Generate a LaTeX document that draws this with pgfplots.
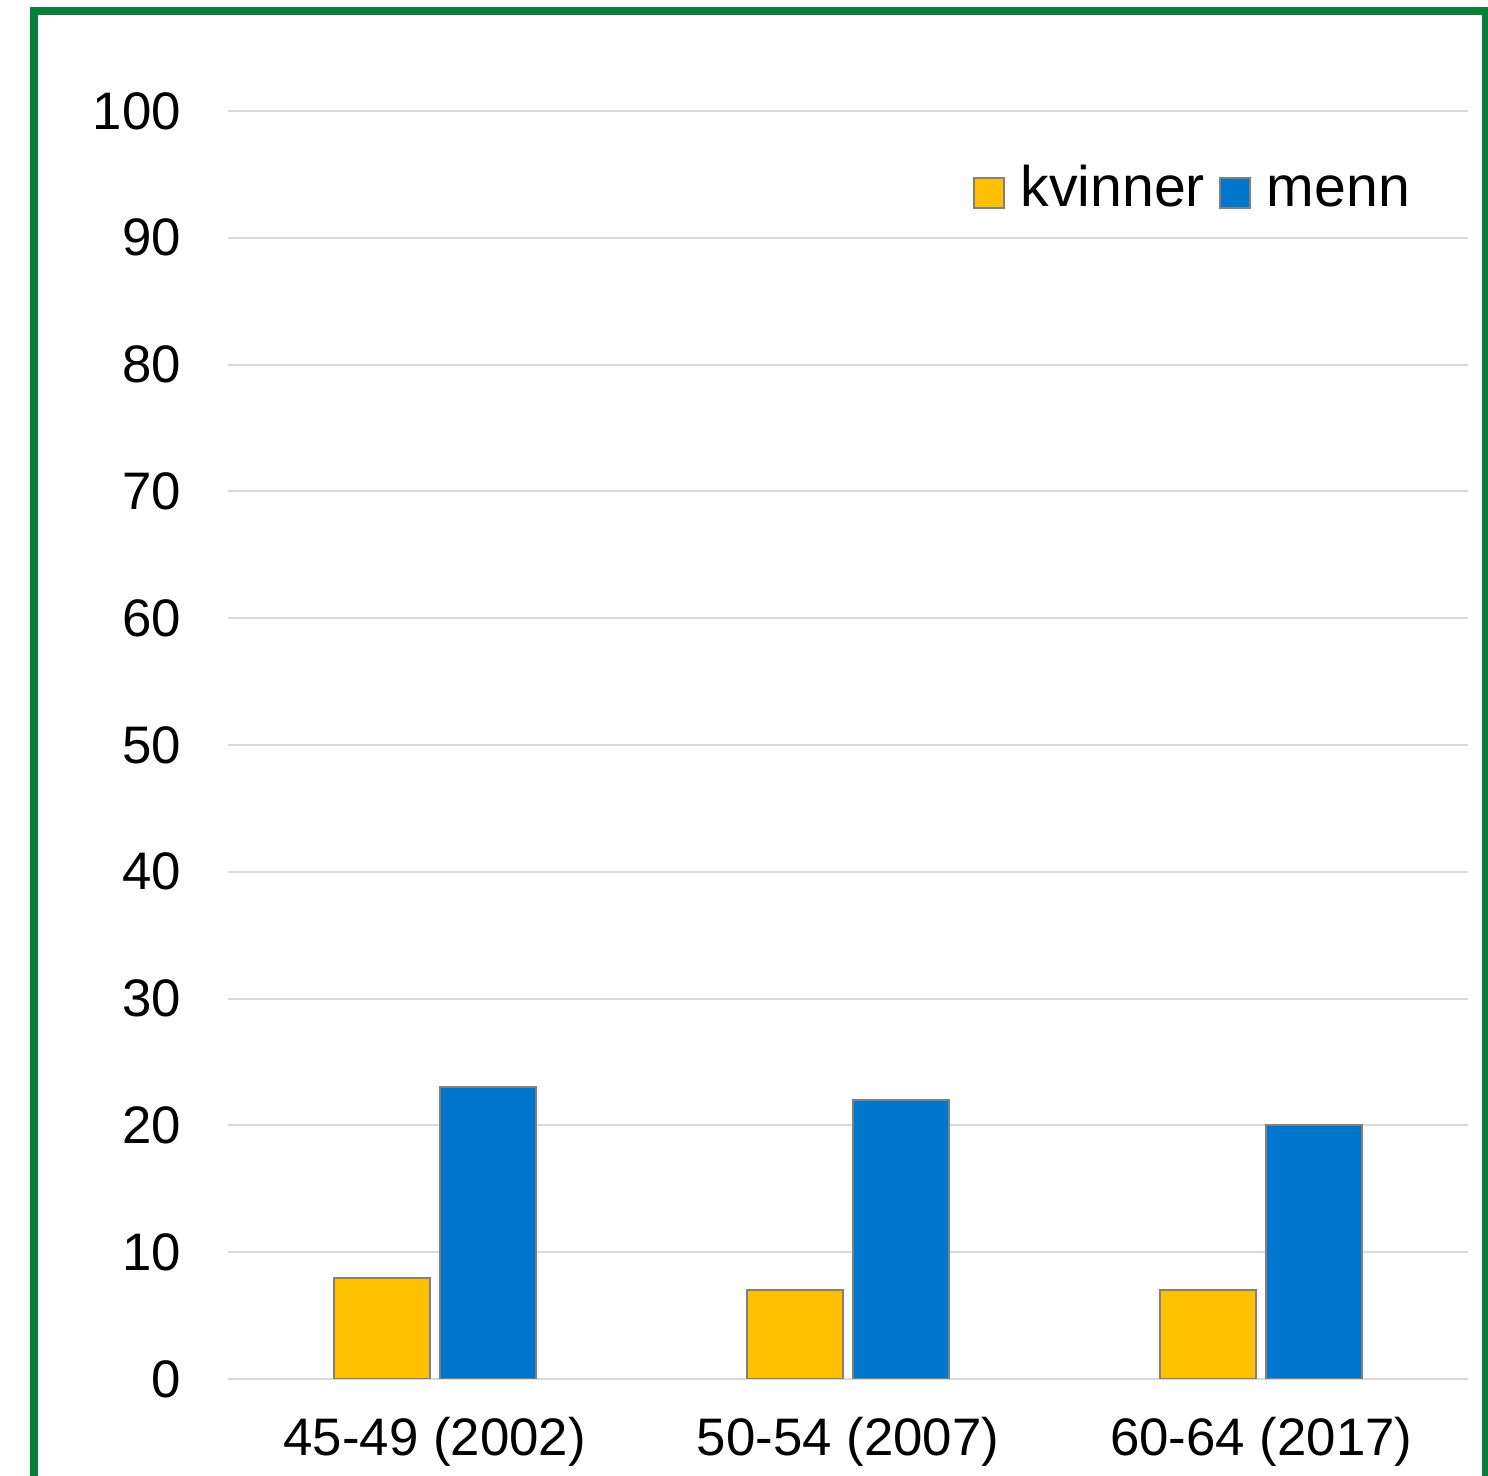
\documentclass[border=0pt]{standalone}
\usepackage{fontspec}
\setmainfont{Liberation Sans}
\usepackage{pgfplots}
\pgfplotsset{compat=1.18}
\definecolor{kv}{RGB}{255,192,0}
\definecolor{me}{RGB}{0,119,204}
\definecolor{frame}{RGB}{8,128,60}
\definecolor{gridc}{RGB}{217,217,217}
\definecolor{edge}{RGB}{128,128,128}

\begin{document}
\begin{tikzpicture}
\useasboundingbox (-57pt,-24.25pt) rectangle (315pt,344.75pt);
\draw[frame, line width=2pt] (-48.5pt,-40pt) -- (-48.5pt,342pt) -- (314.5pt,342pt) -- (314.5pt,-40pt);
\begin{axis}[
scale only axis,
width=310pt,
height=317pt,
ybar=2.5pt,
bar width=24pt,
xmin=-0.5, xmax=2.5,
ymin=0, ymax=100,
ytick={0,10,...,100},
xtick=data,
xticklabels={45-49 (2002),50-54 (2007),60-64 (2017)},
axis line style={draw=none},
major tick length=0pt,
ymajorgrids,
grid style={gridc, line width=0.5pt},
tick label style={font=\fontsize{13.2}{15}\selectfont},
yticklabel style={xshift=-8.2pt},
xticklabel style={yshift=-6pt},
/pgf/number format/assume math mode=true,
legend style={at={(0.97,0.935)}, anchor=east, draw=none, fill=none,
  legend columns=-1, font=\fontsize{14.3}{16}\selectfont,
  nodes={text height=1.45ex, text depth=0.25ex},
  /tikz/every odd column/.append style={column sep=2pt},
  /tikz/every even column/.append style={column sep=1.5pt}},
legend image code/.code={\draw[#1, draw=edge, line width=0.5pt] (0pt,-3.75pt) rectangle (7.5pt,3.75pt);},
]
\addplot[fill=kv, draw=edge, line width=0.5pt] coordinates {(0,8) (1,7) (2,7)};
\addplot[fill=me, draw=edge, line width=0.5pt] coordinates {(0,23) (1,22) (2,20)};
\legend{kvinner,menn}
\end{axis}
\end{tikzpicture}
\end{document}
